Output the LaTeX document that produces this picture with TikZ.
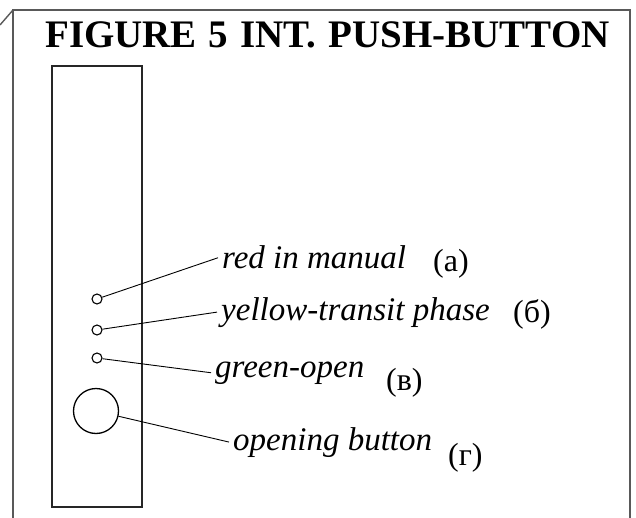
\documentclass[tikz,border=0pt]{standalone}
\usepackage{fontspec}
\setmainfont{Liberation Serif}
\usetikzlibrary{positioning}

\begin{document}
\begin{tikzpicture}[
    x=1pt, y=-1pt,
    frame/.style={draw=black!65, line width=2pt},
    panel/.style={draw=black!85, line width=2.4pt},
    lamp/.style={circle, draw, line width=1.1pt, minimum size=10pt, inner sep=0pt},
    knob/.style={circle, draw, line width=1.3pt, minimum size=45pt, inner sep=0pt},
    caption/.style={anchor=base west, inner sep=4pt, font=\fontsize{33}{35}\selectfont\itshape},
    tag/.style={anchor=base west, inner sep=0pt, font=\fontsize{32}{34}\selectfont},
    leader/.style={line width=0.9pt}
]
\useasboundingbox (0,0) rectangle (636,518);

% Outer frame
\draw[frame] (13,518) -- (13,10) -- (630,10) -- (630,518);
\draw[frame, line width=1.4pt] (0,25) -- (13,10);

% Title
\node[anchor=base west, inner sep=0pt, font=\fontsize{39}{41}\selectfont\bfseries] (title) at (45,48)
    {FIGURE\hskip 12pt 5\hskip 12pt INT.\hskip 12pt PUSH-BUTTON};

% Push-button panel
\draw[panel] (52,66) rectangle (142,507);

% Lamps and button
\node[lamp] (red) at (97,299) {};
\node[lamp] (yellow) at (97,330) {};
\node[lamp] (green) at (97,358) {};
\node[knob] (button) at (96,411) {};

% Captions
\node[caption] (redlbl) at (218,269) {red in manual};
\node[caption] (yellowlbl) at (217,320) {yellow-transit phase};
\node[caption] (greenlbl) at (211,377) {green-open};
\node[caption] (buttonlbl) at (229,450) {opening button};

% Tags
\node[tag] (taga) at (433,272) {(а)};
\node[tag] (tagb) at (513,322) {(б)};
\node[tag] (tagc) at (386,390) {(в)};
\node[tag] (tagd) at (448,465) {(г)};

% Leaders
\draw[leader] (red) -- (redlbl.west);
\draw[leader] (yellow) -- (yellowlbl.west);
\draw[leader] (green) -- (greenlbl.west);
\draw[leader] (button) -- (buttonlbl.west);

\end{tikzpicture}
\end{document}
